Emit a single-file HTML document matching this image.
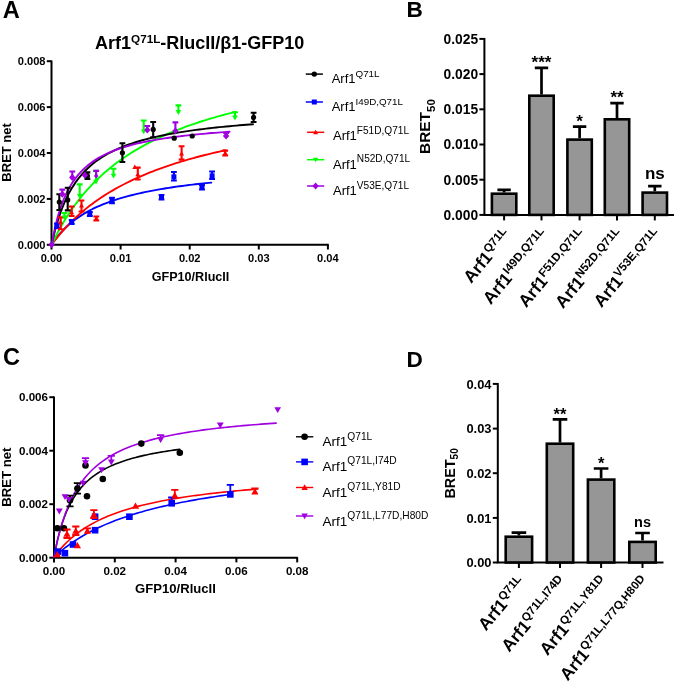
<!DOCTYPE html><html><head><meta charset="utf-8"><style>html,body{margin:0;padding:0;background:#fff}svg{display:block}text{font-family:'Liberation Sans', sans-serif;fill:#000}</style></head><body>
<svg width="675" height="684" viewBox="0 0 675 684" style="will-change:transform">
<rect width="675" height="684" fill="#fff"/>
<text x="2.7" y="17.8" font-size="23.6" font-weight="bold" text-anchor="start" >A</text>
<text x="406.5" y="17.4" font-size="22.6" font-weight="bold" text-anchor="start" >B</text>
<text x="3.1" y="365.2" font-size="23.6" font-weight="bold" text-anchor="start" >C</text>
<text x="406.5" y="367.3" font-size="22.6" font-weight="bold" text-anchor="start" >D</text>
<path d="M51.5 60.5V244.8H328.8" fill="none" stroke="#000" stroke-width="2.0"/>
<path d="M46.8 244.8H51.5" stroke="#000" stroke-width="2.0"/>
<text x="45.5" y="248.8" font-size="11.1" font-weight="bold" text-anchor="end" >0.000</text>
<path d="M46.8 198.9H51.5" stroke="#000" stroke-width="2.0"/>
<text x="45.5" y="202.9" font-size="11.1" font-weight="bold" text-anchor="end" >0.002</text>
<path d="M46.8 153.0H51.5" stroke="#000" stroke-width="2.0"/>
<text x="45.5" y="157.0" font-size="11.1" font-weight="bold" text-anchor="end" >0.004</text>
<path d="M46.8 107.1H51.5" stroke="#000" stroke-width="2.0"/>
<text x="45.5" y="111.1" font-size="11.1" font-weight="bold" text-anchor="end" >0.006</text>
<path d="M46.8 61.2H51.5" stroke="#000" stroke-width="2.0"/>
<text x="45.5" y="65.2" font-size="11.1" font-weight="bold" text-anchor="end" >0.008</text>
<path d="M51.5 244.8V249.5" stroke="#000" stroke-width="2.0"/>
<text x="51.5" y="262.2" font-size="11.1" font-weight="bold" text-anchor="middle" >0.00</text>
<path d="M120.6 244.8V249.5" stroke="#000" stroke-width="2.0"/>
<text x="120.6" y="262.2" font-size="11.1" font-weight="bold" text-anchor="middle" >0.01</text>
<path d="M189.7 244.8V249.5" stroke="#000" stroke-width="2.0"/>
<text x="189.7" y="262.2" font-size="11.1" font-weight="bold" text-anchor="middle" >0.02</text>
<path d="M258.8 244.8V249.5" stroke="#000" stroke-width="2.0"/>
<text x="258.8" y="262.2" font-size="11.1" font-weight="bold" text-anchor="middle" >0.03</text>
<path d="M327.9 244.8V249.5" stroke="#000" stroke-width="2.0"/>
<text x="327.9" y="262.2" font-size="11.1" font-weight="bold" text-anchor="middle" >0.04</text>
<text x="190.5" y="280.5" font-size="12.6" font-weight="bold" text-anchor="middle" >GFP10/RlucII</text>
<text x="0" y="0" font-size="13" font-weight="bold" text-anchor="middle" transform="translate(10.6,152.4) rotate(-90)">BRET net</text>
<text x="199.7" y="49.4" font-size="18" font-weight="bold" text-anchor="middle" >Arf1<tspan font-size="11.7" dy="-6.3">Q71L</tspan><tspan dy="6.3">-RlucII/β1-GFP10</tspan></text>
<polyline points="51.70,244.50 54.36,240.66 57.02,237.17 59.68,233.96 62.34,231.02 65.00,228.30 67.66,225.79 70.32,223.46 72.98,221.29 75.64,219.27 78.30,217.38 80.96,215.61 83.62,213.94 86.28,212.38 88.94,210.91 91.60,209.51 94.26,208.20 96.92,206.95 99.58,205.77 102.24,204.65 104.90,203.58 107.56,202.56 110.22,201.60 112.88,200.67 115.54,199.79 118.20,198.95 120.86,198.14 123.52,197.36 126.18,196.62 128.84,195.91 131.50,195.22 134.16,194.57 136.82,193.93 139.48,193.32 142.14,192.74 144.80,192.17 147.46,191.62 150.12,191.10 152.78,190.59 155.44,190.10 158.10,189.62 160.76,189.16 163.42,188.71 166.08,188.28 168.74,187.86 171.40,187.46 174.06,187.06 176.72,186.68 179.38,186.31 182.04,185.95 184.70,185.60 187.36,185.26 190.02,184.93 192.68,184.61 195.34,184.29 198.00,183.99 200.66,183.69 203.32,183.40 205.98,183.12 208.64,182.85 211.30,182.58" fill="none" stroke="#0000ff" stroke-width="1.9" stroke-linejoin="round" stroke-linecap="round"/>
<polyline points="51.70,244.50 54.59,240.69 57.48,237.06 60.38,233.60 63.27,230.29 66.16,227.13 69.05,224.10 71.94,221.20 74.83,218.43 77.72,215.76 80.62,213.20 83.51,210.74 86.40,208.38 89.29,206.10 92.18,203.91 95.08,201.80 97.97,199.76 100.86,197.79 103.75,195.89 106.64,194.05 109.53,192.28 112.43,190.56 115.32,188.90 118.21,187.29 121.10,185.73 123.99,184.22 126.88,182.75 129.78,181.33 132.67,179.95 135.56,178.60 138.45,177.30 141.34,176.03 144.23,174.80 147.12,173.60 150.02,172.44 152.91,171.30 155.80,170.20 158.69,169.12 161.58,168.07 164.48,167.05 167.37,166.05 170.26,165.08 173.15,164.13 176.04,163.20 178.93,162.30 181.82,161.41 184.72,160.55 187.61,159.71 190.50,158.88 193.39,158.08 196.28,157.29 199.18,156.52 202.07,155.77 204.96,155.03 207.85,154.31 210.74,153.60 213.63,152.91 216.52,152.23 219.42,151.57 222.31,150.91 225.20,150.28" fill="none" stroke="#ff0000" stroke-width="1.9" stroke-linejoin="round" stroke-linecap="round"/>
<polyline points="51.70,244.50 54.77,238.23 57.83,232.33 60.90,226.79 63.96,221.55 67.03,216.61 70.09,211.93 73.16,207.50 76.22,203.30 79.28,199.30 82.35,195.50 85.42,191.88 88.48,188.43 91.55,185.14 94.61,181.99 97.68,178.97 100.74,176.09 103.81,173.32 106.87,170.67 109.94,168.12 113.00,165.67 116.06,163.32 119.13,161.06 122.19,158.88 125.26,156.77 128.32,154.75 131.39,152.79 134.46,150.90 137.52,149.08 140.59,147.31 143.65,145.61 146.72,143.95 149.78,142.35 152.84,140.81 155.91,139.30 158.98,137.85 162.04,136.43 165.11,135.06 168.17,133.73 171.24,132.44 174.30,131.18 177.37,129.96 180.43,128.77 183.50,127.61 186.56,126.48 189.62,125.39 192.69,124.32 195.75,123.28 198.82,122.26 201.88,121.27 204.95,120.31 208.01,119.37 211.08,118.45 214.15,117.55 217.21,116.68 220.27,115.82 223.34,114.99 226.41,114.17 229.47,113.37 232.54,112.59 235.60,111.83" fill="none" stroke="#00ff00" stroke-width="1.9" stroke-linejoin="round" stroke-linecap="round"/>
<polyline points="51.70,244.50 55.05,230.23 58.41,218.64 61.77,209.05 65.12,200.97 68.47,194.07 71.83,188.12 75.19,182.93 78.54,178.36 81.90,174.31 85.25,170.70 88.61,167.45 91.96,164.51 95.31,161.85 98.67,159.43 102.03,157.20 105.38,155.16 108.74,153.28 112.09,151.54 115.45,149.93 118.80,148.42 122.16,147.02 125.51,145.71 128.87,144.49 132.22,143.34 135.57,142.25 138.93,141.23 142.29,140.27 145.64,139.36 149.00,138.50 152.35,137.68 155.71,136.90 159.06,136.16 162.42,135.46 165.77,134.79 169.12,134.15 172.48,133.54 175.84,132.96 179.19,132.40 182.55,131.86 185.90,131.35 189.25,130.86 192.61,130.39 195.96,129.93 199.32,129.49 202.68,129.07 206.03,128.67 209.38,128.28 212.74,127.90 216.10,127.53 219.45,127.18 222.81,126.84 226.16,126.51 229.52,126.19 232.87,125.89 236.23,125.59 239.58,125.30 242.94,125.02 246.29,124.75 249.65,124.48 253.00,124.23" fill="none" stroke="#000" stroke-width="1.9" stroke-linejoin="round" stroke-linecap="round"/>
<polyline points="51.70,244.50 54.67,229.26 57.63,217.30 60.60,207.66 63.56,199.73 66.53,193.08 69.49,187.44 72.45,182.58 75.42,178.36 78.39,174.66 81.35,171.39 84.31,168.47 87.28,165.85 90.25,163.50 93.21,161.36 96.18,159.42 99.14,157.64 102.11,156.01 105.07,154.51 108.03,153.12 111.00,151.83 113.97,150.64 116.93,149.52 119.90,148.48 122.86,147.51 125.83,146.60 128.79,145.74 131.75,144.93 134.72,144.17 137.69,143.44 140.65,142.76 143.62,142.12 146.58,141.50 149.55,140.92 152.51,140.36 155.48,139.84 158.44,139.33 161.41,138.85 164.37,138.39 167.34,137.95 170.30,137.53 173.27,137.12 176.23,136.74 179.19,136.36 182.16,136.00 185.12,135.66 188.09,135.33 191.06,135.01 194.02,134.70 196.99,134.41 199.95,134.12 202.92,133.84 205.88,133.58 208.85,133.32 211.81,133.07 214.77,132.83 217.74,132.59 220.71,132.36 223.67,132.14 226.63,131.93 229.60,131.72" fill="none" stroke="#a000e0" stroke-width="1.9" stroke-linejoin="round" stroke-linecap="round"/>
<path d="M56.9 223.5V228.0M54.0 223.5H59.8M54.0 228.0H59.8" stroke="#0000ff" stroke-width="2.1" fill="none"/>
<rect x="54.4" y="223.2" width="5" height="5" fill="#0000ff"/>
<path d="M71.7 220.0V224.0M68.8 220.0H74.6M68.8 224.0H74.6" stroke="#0000ff" stroke-width="2.1" fill="none"/>
<rect x="69.2" y="219.4" width="5" height="5" fill="#0000ff"/>
<path d="M89.8 212.0V216.0M86.9 212.0H92.7M86.9 216.0H92.7" stroke="#0000ff" stroke-width="2.1" fill="none"/>
<rect x="87.3" y="211.4" width="5" height="5" fill="#0000ff"/>
<path d="M112.0 197.8V203.2M109.1 197.8H114.9M109.1 203.2H114.9" stroke="#0000ff" stroke-width="2.1" fill="none"/>
<rect x="109.5" y="198.0" width="5" height="5" fill="#0000ff"/>
<path d="M161.5 195.0V199.5M158.6 195.0H164.4M158.6 199.5H164.4" stroke="#0000ff" stroke-width="2.1" fill="none"/>
<rect x="159.0" y="194.8" width="5" height="5" fill="#0000ff"/>
<path d="M173.9 172.0V180.5M171.0 172.0H176.8M171.0 180.5H176.8" stroke="#0000ff" stroke-width="2.1" fill="none"/>
<rect x="171.4" y="174.3" width="5" height="5" fill="#0000ff"/>
<path d="M202.0 185.0V189.5M199.1 185.0H204.9M199.1 189.5H204.9" stroke="#0000ff" stroke-width="2.1" fill="none"/>
<rect x="199.5" y="184.7" width="5" height="5" fill="#0000ff"/>
<path d="M212.1 171.5V179.0M209.2 171.5H215.0M209.2 179.0H215.0" stroke="#0000ff" stroke-width="2.1" fill="none"/>
<rect x="209.6" y="173.4" width="5" height="5" fill="#0000ff"/>
<path d="M60.7 217.4V229.3M57.8 217.4H63.6M57.8 229.3H63.6" stroke="#ff0000" stroke-width="2.1" fill="none"/>
<path d="M60.7 219.4L63.2 223.8H58.2Z" fill="#ff0000"/>
<path d="M71.7 206.5V216.0M68.8 206.5H74.6M68.8 216.0H74.6" stroke="#ff0000" stroke-width="2.1" fill="none"/>
<path d="M71.7 209.9L74.2 214.3H69.2Z" fill="#ff0000"/>
<path d="M81.5 200.5V211.5M78.6 200.5H84.4M78.6 211.5H84.4" stroke="#ff0000" stroke-width="2.1" fill="none"/>
<path d="M81.5 203.1L84.0 207.5H79.0Z" fill="#ff0000"/>
<path d="M96.3 216.5V220.5M93.4 216.5H99.2M93.4 220.5H99.2" stroke="#ff0000" stroke-width="2.1" fill="none"/>
<path d="M96.3 215.8L98.8 220.2H93.8Z" fill="#ff0000"/>
<path d="M137.8 167.6V179.5M134.9 167.6H140.7M134.9 179.5H140.7" stroke="#ff0000" stroke-width="2.1" fill="none"/>
<path d="M137.8 171.9L140.3 176.3H135.3Z" fill="#ff0000"/>
<path d="M181.6 146.3V159.6M178.7 146.3H184.5M178.7 159.6H184.5" stroke="#ff0000" stroke-width="2.1" fill="none"/>
<path d="M181.6 151.2L184.1 155.6H179.1Z" fill="#ff0000"/>
<path d="M225.2 150.6V155.5M222.3 150.6H228.1M222.3 155.5H228.1" stroke="#ff0000" stroke-width="2.1" fill="none"/>
<path d="M225.2 150.6L227.7 155.0H222.7Z" fill="#ff0000"/>
<path d="M134.8 164.5L137.3 168.9H132.3Z" fill="#ff0000"/>
<path d="M64.4 213.0V217.6M61.5 213.0H67.3" stroke="#00ff00" stroke-width="2.1" fill="none"/>
<path d="M64.4 220.4L67.2 215.5H61.6Z" fill="#00ff00"/>
<path d="M79.7 184.4V196.0M76.8 184.4H82.6" stroke="#00ff00" stroke-width="2.1" fill="none"/>
<path d="M79.7 198.8L82.5 193.9H76.9Z" fill="#00ff00"/>
<path d="M96.0 170.9V181.8M93.1 170.9H98.9" stroke="#00ff00" stroke-width="2.1" fill="none"/>
<path d="M96.0 184.6L98.8 179.7H93.2Z" fill="#00ff00"/>
<path d="M113.5 168.7V175.8M110.6 168.7H116.4" stroke="#00ff00" stroke-width="2.1" fill="none"/>
<path d="M113.5 178.6L116.3 173.7H110.7Z" fill="#00ff00"/>
<path d="M143.7 120.5V131.5M140.8 120.5H146.6" stroke="#00ff00" stroke-width="2.1" fill="none"/>
<path d="M143.7 134.3L146.5 129.4H140.9Z" fill="#00ff00"/>
<path d="M178.4 105.4V112.2M175.5 105.4H181.3" stroke="#00ff00" stroke-width="2.1" fill="none"/>
<path d="M178.4 115.0L181.2 110.1H175.6Z" fill="#00ff00"/>
<path d="M235.0 112.2V117.6M232.1 112.2H237.9" stroke="#00ff00" stroke-width="2.1" fill="none"/>
<path d="M235.0 120.4L237.8 115.5H232.2Z" fill="#00ff00"/>
<path d="M59.3 194.3V210.0M56.4 194.3H62.2M56.4 210.0H62.2" stroke="#000" stroke-width="2.1" fill="none"/>
<circle cx="59.3" cy="202.0" r="2.6" fill="#000"/>
<path d="M67.7 187.8V210.4M64.8 187.8H70.6M64.8 210.4H70.6" stroke="#000" stroke-width="2.1" fill="none"/>
<circle cx="67.7" cy="199.9" r="2.6" fill="#000"/>
<path d="M87.4 172.4V178.9M84.5 172.4H90.3M84.5 178.9H90.3" stroke="#000" stroke-width="2.1" fill="none"/>
<circle cx="87.4" cy="175.9" r="2.6" fill="#000"/>
<path d="M122.4 143.3V162.0M119.5 143.3H125.3M119.5 162.0H125.3" stroke="#000" stroke-width="2.1" fill="none"/>
<circle cx="122.4" cy="152.8" r="2.6" fill="#000"/>
<path d="M153.2 122.0V137.4M150.3 122.0H156.1M150.3 137.4H156.1" stroke="#000" stroke-width="2.1" fill="none"/>
<circle cx="153.2" cy="129.4" r="2.6" fill="#000"/>
<path d="M253.6 112.8V122.0M250.7 112.8H256.5M250.7 122.0H256.5" stroke="#000" stroke-width="2.1" fill="none"/>
<circle cx="253.6" cy="117.4" r="2.6" fill="#000"/>
<circle cx="174.2" cy="138.2" r="2.6" fill="#000"/>
<circle cx="192.2" cy="136.0" r="2.6" fill="#000"/>
<path d="M62.3 189.6V194.2M59.4 189.6H65.2" stroke="#a000e0" stroke-width="2.1" fill="none"/>
<path d="M62.3 190.6L65.5 194.2L62.3 197.8L59.1 194.2Z" fill="#a000e0"/>
<path d="M72.3 171.5V177.4M69.4 171.5H75.2" stroke="#a000e0" stroke-width="2.1" fill="none"/>
<path d="M72.3 173.8L75.5 177.4L72.3 181.0L69.1 177.4Z" fill="#a000e0"/>
<path d="M96.2 170.9V176.5M93.3 170.9H99.1" stroke="#a000e0" stroke-width="2.1" fill="none"/>
<path d="M96.2 173.4L98.5 176.0L96.2 178.6L93.9 176.0Z" fill="#a000e0"/>
<path d="M147.3 126.0V130.0M144.4 126.0H150.2" stroke="#a000e0" stroke-width="2.1" fill="none"/>
<path d="M147.3 126.4L150.5 130.0L147.3 133.6L144.1 130.0Z" fill="#a000e0"/>
<path d="M175.4 122.4V131.0M172.5 122.4H178.3" stroke="#a000e0" stroke-width="2.1" fill="none"/>
<path d="M175.4 127.4L178.6 131.0L175.4 134.6L172.2 131.0Z" fill="#a000e0"/>
<path d="M226.1 133.0V135.9M223.2 133.0H229.0" stroke="#a000e0" stroke-width="2.1" fill="none"/>
<path d="M226.1 132.3L229.3 135.9L226.1 139.5L222.9 135.9Z" fill="#a000e0"/>
<path d="M84.9 171.6L88.1 175.2L84.9 178.8L81.7 175.2Z" fill="#a000e0"/>
<path d="M51.7 241.0L54.9 244.6L51.7 248.2L48.5 244.6Z" fill="#a000e0"/>
<path d="M305.8 74.1H322.9" stroke="#000" stroke-width="1.5"/>
<circle cx="314.3" cy="74.1" r="2.7" fill="#000"/>
<text x="331.7" y="83.3" font-size="13" font-weight="normal" text-anchor="start" >Arf1<tspan font-size="9.8" dy="-6.2">Q71L</tspan></text>
<path d="M305.8 102H322.9" stroke="#0000ff" stroke-width="1.5"/>
<rect x="311.8" y="99.5" width="5" height="5" fill="#0000ff"/>
<text x="331.7" y="111.3" font-size="13" font-weight="normal" text-anchor="start" >Arf1<tspan font-size="9.8" dy="-6.2">I49D,Q71L</tspan></text>
<path d="M307.1 132.3H324.2" stroke="#ff0000" stroke-width="1.5"/>
<path d="M315.6 129.8L318.1 134.2H313.1Z" fill="#ff0000"/>
<text x="333.0" y="140" font-size="13" font-weight="normal" text-anchor="start" >Arf1<tspan font-size="10.1" dy="-6.2">F51D,Q71L</tspan></text>
<path d="M307.1 159.7H324.2" stroke="#00ff00" stroke-width="1.5"/>
<path d="M315.6 162.3L318.2 157.7H313.0Z" fill="#00ff00"/>
<text x="333.0" y="168.5" font-size="13" font-weight="normal" text-anchor="start" >Arf1<tspan font-size="10.1" dy="-6.2">N52D,Q71L</tspan></text>
<path d="M307.1 186H324.2" stroke="#a000e0" stroke-width="1.5"/>
<path d="M315.6 182.4L318.8 186.0L315.6 189.6L312.4 186.0Z" fill="#a000e0"/>
<text x="333.0" y="194.8" font-size="13" font-weight="normal" text-anchor="start" >Arf1<tspan font-size="10.1" dy="-6.2">V53E,Q71L</tspan></text>
<path d="M484.4 37.9V214.9H674" fill="none" stroke="#000" stroke-width="2"/>
<path d="M479.4 214.9H484.4" stroke="#000" stroke-width="2"/>
<text x="478.09999999999997" y="219.8" font-size="13.8" font-weight="bold" text-anchor="end" >0.000</text>
<path d="M479.4 179.7H484.4" stroke="#000" stroke-width="2"/>
<text x="478.09999999999997" y="184.6" font-size="13.8" font-weight="bold" text-anchor="end" >0.005</text>
<path d="M479.4 144.5H484.4" stroke="#000" stroke-width="2"/>
<text x="478.09999999999997" y="149.4" font-size="13.8" font-weight="bold" text-anchor="end" >0.010</text>
<path d="M479.4 109.3H484.4" stroke="#000" stroke-width="2"/>
<text x="478.09999999999997" y="114.2" font-size="13.8" font-weight="bold" text-anchor="end" >0.015</text>
<path d="M479.4 74.1H484.4" stroke="#000" stroke-width="2"/>
<text x="478.09999999999997" y="79.0" font-size="13.8" font-weight="bold" text-anchor="end" >0.020</text>
<path d="M479.4 38.9H484.4" stroke="#000" stroke-width="2"/>
<text x="478.09999999999997" y="43.8" font-size="13.8" font-weight="bold" text-anchor="end" >0.025</text>
<path d="M504.1 192.4V189.9M497.4 189.9H510.8" stroke="#000" stroke-width="2.7" fill="none"/>
<rect x="491.9" y="193.7" width="24.4" height="21.2" fill="#969696" stroke="#000" stroke-width="2.6"/>
<path d="M504.1 214.9V220.4" stroke="#000" stroke-width="2"/>
<text font-size="17.2" font-weight="bold" text-anchor="end" transform="translate(511.9,235.4) rotate(-50)">Arf1<tspan font-size="11.6" dy="-6.3">Q71L</tspan></text>
<path d="M541.5 94.4V67.9M534.8 67.9H548.2" stroke="#000" stroke-width="2.7" fill="none"/>
<rect x="529.3" y="95.7" width="24.4" height="119.2" fill="#969696" stroke="#000" stroke-width="2.6"/>
<path d="M541.5 214.9V220.4" stroke="#000" stroke-width="2"/>
<text x="541.5" y="68.0" font-size="17" font-weight="bold" text-anchor="middle" >***</text>
<text font-size="17.2" font-weight="bold" text-anchor="end" transform="translate(549.3,235.4) rotate(-50)">Arf1<tspan font-size="11.6" dy="-6.3">I49D,Q71L</tspan></text>
<path d="M579.6 138.3V126.7M572.9 126.7H586.3" stroke="#000" stroke-width="2.7" fill="none"/>
<rect x="567.4" y="139.6" width="24.4" height="75.3" fill="#969696" stroke="#000" stroke-width="2.6"/>
<path d="M579.6 214.9V220.4" stroke="#000" stroke-width="2"/>
<text x="579.6" y="126.8" font-size="17" font-weight="bold" text-anchor="middle" >*</text>
<text font-size="17.2" font-weight="bold" text-anchor="end" transform="translate(587.4,235.4) rotate(-50)">Arf1<tspan font-size="11.6" dy="-6.3">F51D,Q71L</tspan></text>
<path d="M617.0 118V103.1M610.3 103.1H623.7" stroke="#000" stroke-width="2.7" fill="none"/>
<rect x="604.8" y="119.3" width="24.4" height="95.6" fill="#969696" stroke="#000" stroke-width="2.6"/>
<path d="M617.0 214.9V220.4" stroke="#000" stroke-width="2"/>
<text x="617.0" y="103.19999999999999" font-size="17" font-weight="bold" text-anchor="middle" >**</text>
<text font-size="17.2" font-weight="bold" text-anchor="end" transform="translate(624.8,235.4) rotate(-50)">Arf1<tspan font-size="11.6" dy="-6.3">N52D,Q71L</tspan></text>
<path d="M654.8 191.3V186.2M648.1 186.2H661.5" stroke="#000" stroke-width="2.7" fill="none"/>
<rect x="642.6" y="192.6" width="24.4" height="22.3" fill="#969696" stroke="#000" stroke-width="2.6"/>
<path d="M654.8 214.9V220.4" stroke="#000" stroke-width="2"/>
<text x="654.8" y="179.2" font-size="17" font-weight="bold" text-anchor="middle" >ns</text>
<text font-size="17.2" font-weight="bold" text-anchor="end" transform="translate(662.6,235.4) rotate(-50)">Arf1<tspan font-size="11.6" dy="-6.3">V53E,Q71L</tspan></text>
<text font-size="15.4" font-weight="bold" text-anchor="start" transform="translate(430.4,153.9) rotate(-90)">BRET<tspan font-size="11.5" dy="4.5">50</tspan></text>
<path d="M54 396.6V557.7H297.9" fill="none" stroke="#000" stroke-width="2.0"/>
<path d="M49.3 557.7H54" stroke="#000" stroke-width="2.0"/>
<text x="48.0" y="561.7" font-size="11.6" font-weight="bold" text-anchor="end" >0.000</text>
<path d="M49.3 504.2H54" stroke="#000" stroke-width="2.0"/>
<text x="48.0" y="508.2" font-size="11.6" font-weight="bold" text-anchor="end" >0.002</text>
<path d="M49.3 450.7H54" stroke="#000" stroke-width="2.0"/>
<text x="48.0" y="454.7" font-size="11.6" font-weight="bold" text-anchor="end" >0.004</text>
<path d="M49.3 397.2H54" stroke="#000" stroke-width="2.0"/>
<text x="48.0" y="401.2" font-size="11.6" font-weight="bold" text-anchor="end" >0.006</text>
<path d="M54.0 557.7V562.4000000000001" stroke="#000" stroke-width="2.0"/>
<text x="54.0" y="575.2" font-size="11.6" font-weight="bold" text-anchor="middle" >0.00</text>
<path d="M114.8 557.7V562.4000000000001" stroke="#000" stroke-width="2.0"/>
<text x="114.8" y="575.2" font-size="11.6" font-weight="bold" text-anchor="middle" >0.02</text>
<path d="M175.6 557.7V562.4000000000001" stroke="#000" stroke-width="2.0"/>
<text x="175.6" y="575.2" font-size="11.6" font-weight="bold" text-anchor="middle" >0.04</text>
<path d="M236.4 557.7V562.4000000000001" stroke="#000" stroke-width="2.0"/>
<text x="236.4" y="575.2" font-size="11.6" font-weight="bold" text-anchor="middle" >0.06</text>
<path d="M297.2 557.7V562.4000000000001" stroke="#000" stroke-width="2.0"/>
<text x="297.2" y="575.2" font-size="11.6" font-weight="bold" text-anchor="middle" >0.08</text>
<text x="175.5" y="593" font-size="13.1" font-weight="bold" text-anchor="middle" >GFP10/RlucII</text>
<text x="0" y="0" font-size="13.2" font-weight="bold" text-anchor="middle" transform="translate(10.8,477.2) rotate(-90)">BRET net</text>
<polyline points="54.00,557.20 56.95,554.51 59.89,551.96 62.84,549.54 65.78,547.24 68.72,545.05 71.67,542.96 74.61,540.97 77.56,539.07 80.50,537.25 83.45,535.51 86.39,533.84 89.34,532.24 92.28,530.70 95.23,529.23 98.17,527.81 101.12,526.45 104.06,525.14 107.01,523.87 109.95,522.65 112.90,521.48 115.84,520.34 118.79,519.25 121.73,518.19 124.68,517.16 127.62,516.17 130.57,515.21 133.51,514.28 136.46,513.38 139.40,512.51 142.35,511.66 145.30,510.84 148.24,510.04 151.19,509.27 154.13,508.51 157.07,507.78 160.02,507.07 162.96,506.38 165.91,505.70 168.85,505.05 171.80,504.41 174.75,503.79 177.69,503.18 180.63,502.59 183.58,502.01 186.52,501.45 189.47,500.90 192.41,500.36 195.36,499.84 198.30,499.33 201.25,498.83 204.19,498.34 207.14,497.87 210.08,497.40 213.03,496.94 215.97,496.50 218.92,496.06 221.86,495.64 224.81,495.22 227.75,494.81 230.70,494.41" fill="none" stroke="#0000ff" stroke-width="1.6" stroke-linejoin="round" stroke-linecap="round"/>
<polyline points="54.00,557.20 57.39,552.69 60.79,548.61 64.18,544.90 67.57,541.52 70.97,538.42 74.36,535.58 77.75,532.95 81.15,530.51 84.54,528.26 87.93,526.15 91.33,524.19 94.72,522.36 98.11,520.64 101.51,519.03 104.90,517.51 108.29,516.08 111.69,514.72 115.08,513.45 118.47,512.23 121.87,511.09 125.26,510.00 128.65,508.96 132.05,507.97 135.44,507.03 138.83,506.13 142.23,505.27 145.62,504.45 149.01,503.66 152.41,502.91 155.80,502.19 159.19,501.49 162.59,500.83 165.98,500.19 169.37,499.57 172.77,498.98 176.16,498.40 179.55,497.85 182.95,497.32 186.34,496.81 189.73,496.31 193.13,495.83 196.52,495.37 199.91,494.92 203.31,494.48 206.70,494.06 210.09,493.65 213.49,493.26 216.88,492.88 220.27,492.50 223.67,492.14 227.06,491.79 230.45,491.45 233.85,491.12 237.24,490.79 240.63,490.48 244.03,490.17 247.42,489.88 250.81,489.59 254.21,489.30 257.60,489.03" fill="none" stroke="#ff0000" stroke-width="1.6" stroke-linejoin="round" stroke-linecap="round"/>
<polyline points="54.00,557.20 56.10,546.32 58.19,537.16 60.29,529.33 62.39,522.58 64.48,516.68 66.58,511.49 68.68,506.89 70.77,502.78 72.87,499.09 74.97,495.75 77.06,492.72 79.16,489.96 81.26,487.43 83.35,485.11 85.45,482.97 87.55,480.99 89.64,479.15 91.74,477.44 93.84,475.85 95.93,474.35 98.03,472.96 100.13,471.65 102.22,470.41 104.32,469.25 106.42,468.15 108.51,467.12 110.61,466.13 112.71,465.20 114.80,464.32 116.90,463.48 119.00,462.68 121.09,461.91 123.19,461.18 125.29,460.49 127.38,459.82 129.48,459.19 131.58,458.58 133.67,457.99 135.77,457.43 137.87,456.89 139.96,456.37 142.06,455.87 144.16,455.39 146.25,454.93 148.35,454.49 150.45,454.06 152.54,453.64 154.64,453.24 156.74,452.85 158.83,452.48 160.93,452.11 163.03,451.76 165.12,451.42 167.22,451.09 169.32,450.77 171.41,450.46 173.51,450.16 175.61,449.87 177.70,449.59 179.80,449.31" fill="none" stroke="#000" stroke-width="1.6" stroke-linejoin="round" stroke-linecap="round"/>
<polyline points="54.00,557.20 57.70,539.47 61.40,525.47 65.11,514.13 68.81,504.76 72.51,496.89 76.21,490.18 79.91,484.40 83.61,479.37 87.31,474.94 91.02,471.02 94.72,467.52 98.42,464.39 102.12,461.55 105.82,458.99 109.53,456.65 113.23,454.50 116.93,452.54 120.63,450.72 124.33,449.05 128.03,447.49 131.73,446.05 135.44,444.70 139.14,443.44 142.84,442.27 146.54,441.16 150.24,440.12 153.94,439.14 157.65,438.21 161.35,437.34 165.05,436.51 168.75,435.73 172.45,434.98 176.16,434.28 179.86,433.60 183.56,432.96 187.26,432.35 190.96,431.76 194.66,431.20 198.36,430.67 202.07,430.15 205.77,429.66 209.47,429.19 213.17,428.74 216.87,428.30 220.57,427.88 224.28,427.48 227.98,427.09 231.68,426.72 235.38,426.35 239.08,426.01 242.78,425.67 246.49,425.34 250.19,425.03 253.89,424.72 257.59,424.43 261.29,424.14 265.00,423.87 268.70,423.60 272.40,423.34 276.10,423.09" fill="none" stroke="#a000e0" stroke-width="1.6" stroke-linejoin="round" stroke-linecap="round"/>
<path d="M70.0 495.6V506.3M66.4 495.6H73.6M66.4 506.3H73.6" stroke="#000" stroke-width="1.8" fill="none"/>
<path d="M77.4 483.2V493.6M73.8 483.2H81.0M73.8 493.6H81.0" stroke="#000" stroke-width="1.8" fill="none"/>
<circle cx="57.3" cy="528.3" r="3.3" fill="#000"/>
<circle cx="63.9" cy="528.3" r="3.3" fill="#000"/>
<circle cx="70.0" cy="500.2" r="3.3" fill="#000"/>
<circle cx="77.4" cy="488.6" r="3.3" fill="#000"/>
<circle cx="85.5" cy="465.5" r="3.3" fill="#000"/>
<circle cx="87.0" cy="496.3" r="3.3" fill="#000"/>
<circle cx="102.8" cy="479.0" r="3.3" fill="#000"/>
<circle cx="141.3" cy="443.6" r="3.3" fill="#000"/>
<circle cx="179.8" cy="452.8" r="3.3" fill="#000"/>
<path d="M171.7 497.5V503.3M168.1 497.5H175.3" stroke="#0000ff" stroke-width="1.8" fill="none"/>
<path d="M230.3 484.8V494.4M226.7 484.8H233.9" stroke="#0000ff" stroke-width="1.8" fill="none"/>
<rect x="54.6" y="548.3" width="6.6" height="6.6" fill="#0000ff"/>
<rect x="61.6" y="549.9" width="6.6" height="6.6" fill="#0000ff"/>
<rect x="69.7" y="541.2" width="6.6" height="6.6" fill="#0000ff"/>
<rect x="91.8" y="526.9" width="6.6" height="6.6" fill="#0000ff"/>
<rect x="91.8" y="513.4" width="6.6" height="6.6" fill="#0000ff"/>
<rect x="126.1" y="513.4" width="6.6" height="6.6" fill="#0000ff"/>
<rect x="168.4" y="500.0" width="6.6" height="6.6" fill="#0000ff"/>
<rect x="227.0" y="491.1" width="6.6" height="6.6" fill="#0000ff"/>
<path d="M67.0 529.5V538.0M63.4 529.5H70.6M63.4 538.0H70.6" stroke="#ff0000" stroke-width="1.8" fill="none"/>
<path d="M75.8 526.5V535.0M72.2 526.5H79.4M72.2 535.0H79.4" stroke="#ff0000" stroke-width="1.8" fill="none"/>
<path d="M87.4 528.3V534.0M83.8 528.3H91.0" stroke="#ff0000" stroke-width="1.8" fill="none"/>
<path d="M93.9 510.2V518.0M90.3 510.2H97.5M90.3 518.0H97.5" stroke="#ff0000" stroke-width="1.8" fill="none"/>
<path d="M174.8 489.8V498.0M171.2 489.8H178.4" stroke="#ff0000" stroke-width="1.8" fill="none"/>
<path d="M254.9 488.5V494.0M251.3 488.5H258.5" stroke="#ff0000" stroke-width="1.8" fill="none"/>
<path d="M57.3 550.9L60.9 557.2H53.7Z" fill="#ff0000"/>
<path d="M67.0 530.4L70.6 536.7H63.4Z" fill="#ff0000"/>
<path d="M75.8 527.4L79.4 533.7H72.2Z" fill="#ff0000"/>
<path d="M77.4 542.0L81.0 548.3H73.8Z" fill="#ff0000"/>
<path d="M87.4 527.4L91.0 533.7H83.8Z" fill="#ff0000"/>
<path d="M93.9 511.2L97.5 517.5H90.3Z" fill="#ff0000"/>
<path d="M135.5 502.4L139.1 508.7H131.9Z" fill="#ff0000"/>
<path d="M174.8 492.0L178.4 498.3H171.2Z" fill="#ff0000"/>
<path d="M254.9 488.1L258.5 494.4H251.3Z" fill="#ff0000"/>
<path d="M85.5 458.2V462.8M81.9 458.2H89.1" stroke="#a000e0" stroke-width="1.8" fill="none"/>
<path d="M111.3 455.9V462.0M107.7 455.9H114.9" stroke="#a000e0" stroke-width="1.8" fill="none"/>
<path d="M160.6 435.1V439.7M157.0 435.1H164.2" stroke="#a000e0" stroke-width="1.8" fill="none"/>
<path d="M59.3 514.4L62.7 508.5H55.9Z" fill="#a000e0"/>
<path d="M65.0 500.1L68.4 494.2H61.6Z" fill="#a000e0"/>
<path d="M68.9 502.8L72.3 496.9H65.5Z" fill="#a000e0"/>
<path d="M83.1 486.6L86.5 480.7H79.7Z" fill="#a000e0"/>
<path d="M85.5 466.2L88.9 460.3H82.1Z" fill="#a000e0"/>
<path d="M101.6 473.2L105.0 467.3H98.2Z" fill="#a000e0"/>
<path d="M111.3 465.4L114.7 459.5H107.9Z" fill="#a000e0"/>
<path d="M160.6 443.1L164.0 437.2H157.2Z" fill="#a000e0"/>
<path d="M220.3 428.5L223.7 422.6H216.9Z" fill="#a000e0"/>
<path d="M277.7 413.1L281.1 407.2H274.3Z" fill="#a000e0"/>
<path d="M296 436.8H313.3" stroke="#000" stroke-width="1.4"/>
<circle cx="304.6" cy="436.8" r="3.3" fill="#000"/>
<text x="322.6" y="445.9" font-size="13.5" font-weight="normal" text-anchor="start" >Arf1<tspan font-size="10.2" dy="-6.3">Q71L</tspan></text>
<path d="M296 461.9H313.3" stroke="#0000ff" stroke-width="1.4"/>
<rect x="301.3" y="458.6" width="6.6" height="6.6" fill="#0000ff"/>
<text x="322.6" y="470.7" font-size="13.5" font-weight="normal" text-anchor="start" >Arf1<tspan font-size="10.2" dy="-6.3">Q71L,I74D</tspan></text>
<path d="M296 487.5H313.3" stroke="#ff0000" stroke-width="1.4"/>
<path d="M304.6 484.3L307.8 489.9H301.4Z" fill="#ff0000"/>
<text x="322.6" y="496.6" font-size="13.5" font-weight="normal" text-anchor="start" >Arf1<tspan font-size="10.2" dy="-6.3">Q71L,Y81D</tspan></text>
<path d="M296 516H313.3" stroke="#a000e0" stroke-width="1.4"/>
<path d="M304.6 519.2L307.8 513.6H301.4Z" fill="#a000e0"/>
<text x="322.6" y="525.5" font-size="13.5" font-weight="normal" text-anchor="start" >Arf1<tspan font-size="10.2" dy="-6.3">Q71L,L77D,H80D</tspan></text>
<path d="M497.8 382.9V562.5H663.5" fill="none" stroke="#000" stroke-width="2"/>
<path d="M492.8 562.5H497.8" stroke="#000" stroke-width="2"/>
<text x="491.5" y="567.1" font-size="12.9" font-weight="bold" text-anchor="end" >0.00</text>
<path d="M492.8 517.9H497.8" stroke="#000" stroke-width="2"/>
<text x="491.5" y="522.5" font-size="12.9" font-weight="bold" text-anchor="end" >0.01</text>
<path d="M492.8 473.2H497.8" stroke="#000" stroke-width="2"/>
<text x="491.5" y="477.8" font-size="12.9" font-weight="bold" text-anchor="end" >0.02</text>
<path d="M492.8 428.6H497.8" stroke="#000" stroke-width="2"/>
<text x="491.5" y="433.2" font-size="12.9" font-weight="bold" text-anchor="end" >0.03</text>
<path d="M492.8 383.9H497.8" stroke="#000" stroke-width="2"/>
<text x="491.5" y="388.5" font-size="12.9" font-weight="bold" text-anchor="end" >0.04</text>
<path d="M518.9 535.4V532.6M511.6 532.6H526.2" stroke="#000" stroke-width="2.7" fill="none"/>
<rect x="505.7" y="536.7" width="26.4" height="25.8" fill="#969696" stroke="#000" stroke-width="2.6"/>
<path d="M518.9 562.5V568.0" stroke="#000" stroke-width="2"/>
<text font-size="17.2" font-weight="bold" text-anchor="end" transform="translate(526.7,583.0) rotate(-50)">Arf1<tspan font-size="11.6" dy="-6.3">Q71L</tspan></text>
<path d="M560.0 442.4V419.4M552.7 419.4H567.3" stroke="#000" stroke-width="2.7" fill="none"/>
<rect x="546.8" y="443.7" width="26.4" height="118.8" fill="#969696" stroke="#000" stroke-width="2.6"/>
<path d="M560.0 562.5V568.0" stroke="#000" stroke-width="2"/>
<text x="560.0" y="419.5" font-size="16.5" font-weight="bold" text-anchor="middle" >**</text>
<text font-size="17.2" font-weight="bold" text-anchor="end" transform="translate(567.8,583.0) rotate(-50)">Arf1<tspan font-size="11.6" dy="-6.3">Q71L,I74D</tspan></text>
<path d="M601.1 478.3V468.5M593.8 468.5H608.4" stroke="#000" stroke-width="2.7" fill="none"/>
<rect x="587.9" y="479.6" width="26.4" height="82.9" fill="#969696" stroke="#000" stroke-width="2.6"/>
<path d="M601.1 562.5V568.0" stroke="#000" stroke-width="2"/>
<text x="601.1" y="468.6" font-size="16.5" font-weight="bold" text-anchor="middle" >*</text>
<text font-size="17.2" font-weight="bold" text-anchor="end" transform="translate(608.9,583.0) rotate(-50)">Arf1<tspan font-size="11.6" dy="-6.3">Q71L,Y81D</tspan></text>
<path d="M642.5 540.6V533M635.2 533H649.8" stroke="#000" stroke-width="2.7" fill="none"/>
<rect x="629.3" y="541.9" width="26.4" height="20.6" fill="#969696" stroke="#000" stroke-width="2.6"/>
<path d="M642.5 562.5V568.0" stroke="#000" stroke-width="2"/>
<text x="642.5" y="527.4" font-size="14.5" font-weight="bold" text-anchor="middle" >ns</text>
<text font-size="17.2" font-weight="bold" text-anchor="end" transform="translate(650.3,583.0) rotate(-50)">Arf1<tspan font-size="11.6" dy="-6.3">Q71L,L77Q,H80D</tspan></text>
<text font-size="14.4" font-weight="bold" text-anchor="start" transform="translate(454.5,498.6) rotate(-90)">BRET<tspan font-size="10" dy="3.7">50</tspan></text>
</svg></body></html>
